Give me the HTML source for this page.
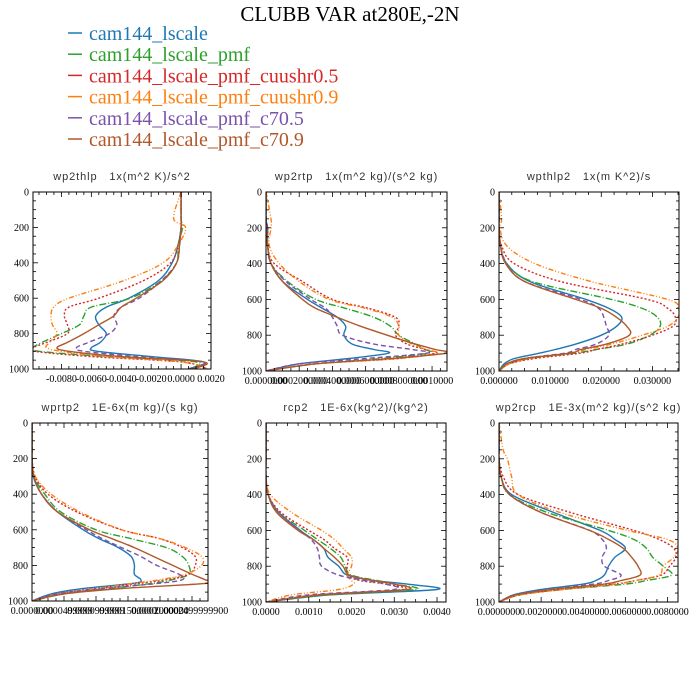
<!DOCTYPE html>
<html><head><meta charset="utf-8"><style>
body{margin:0;background:#fff;}
svg{display:block;}
.pt{white-space:pre;}
</style></head><body>
<svg id="fig" width="700" height="700" xmlns="http://www.w3.org/2000/svg">
<rect width="700" height="700" fill="#fff"/>
<text x="350" y="21" text-anchor="middle" font-family="Liberation Serif, serif" font-size="21" fill="#000">CLUBB VAR at280E,-2N</text>
<defs id="defs"></defs>
<g id="legend"></g>
<g id="panels"></g>
</svg>
<script>
const seriesNames=["cam144_lscale","cam144_lscale_pmf","cam144_lscale_pmf_cuushr0.5","cam144_lscale_pmf_cuushr0.9","cam144_lscale_pmf_c70.5","cam144_lscale_pmf_c70.9"];
const levels=[0,150,200,300,400,500,600,650,700,750,800,850,880,900,930,960,1000];
// panel 1 wp2thlp (1e-3)
const p1blue=[0,0,0,-0.2,-0.6,-1.5,-3.5,-5.0,-5.7,-5.5,-5.0,-5.4,-6.0,-5.6,-2,1.5,0.5];
const p1green=[0,0,0.1,-0.2,-0.3,-1.3,-3.4,-6.0,-6.5,-6.8,-8.0,-9.3,-9.9,-9.5,-5,1,0.5];
const p1red=[0,0,0,-0.2,-0.7,-2.5,-5.5,-7.5,-7.8,-7.6,-7.6,-9.0,-9.9,-9.8,-6,0,1.8];
const p1orange=[0,-0.5,0.3,-0.2,-1.2,-3.8,-7.5,-8.5,-8.7,-8.6,-8.3,-8.8,-9.0,-8.0,-5,0,1.8];
const p1purple=[0,0,0,-0.1,-0.3,-1.3,-2.8,-4.0,-4.5,-4.3,-4.8,-6.2,-7.0,-6.5,-3,1.5,0.5];
const p1brown=[0,0,0,-0.1,-0.3,-1.2,-3.0,-4.0,-4.5,-5.5,-6.5,-7.6,-8.3,-7.5,-4,1.5,0.8];
// panel 2 wp2rtp (1e-4)
const p2blue=[0,0,0.1,0.1,0.3,1.0,2.5,3.4,4.3,4.8,4.7,5.2,6.5,7.4,5,2,0];
const p2green=[0,0,0,0.1,0.3,1.3,3.0,4.8,6.5,7.5,8.0,9.0,9.6,9.8,7,3,0];
const p2red=[0,0,0.1,0.1,0.5,2.2,4.0,6.2,7.8,8.0,7.8,8.5,9.6,10.2,8,3,0];
const p2orange=[0,0.3,0.3,0.2,0.8,2.0,3.8,6.0,7.6,8.0,8.0,8.8,9.6,10.3,8,3,0];
const p2purple=[0,0,0,0.1,0.3,1.2,2.7,3.6,4.0,4.3,4.6,6.5,8.8,9.7,6,2,0];
const p2brown=[0,0,0,0.1,0.3,1.0,2.2,3.0,4.3,5.7,7.3,9.0,10.2,10.9,7.5,3,0];
// panel 3 wpthlp2 (1e-3)
const p3blue=[0,0,0,0.3,1.5,6,17,21.5,24,23,20,15,11,8,3,1,0];
const p3green=[0,0,0,0.3,1.5,6.5,22,28,31,31.5,29.5,25,19,15,6,2,0];
const p3red=[0,0,0,0.5,3,12,29,33,34.5,34,30,24,19,16,7,2,0];
const p3orange=[0,0.5,0.2,1.5,7,18,33,35,35,33,28,22,17,14,6,2,0];
const p3purple=[0,0,0,0.3,1.5,5,16,19.5,20.5,21,21.5,19,15,13,5,1.5,0];
const p3brown=[0,0,0,0.3,1.3,5,15,20,23,25,25.5,21,16,14,5,1.5,0];
// panel 4 wprtp2 (1e-5)
const p4blue=[0,0,0,0.2,1.5,4,8,10.5,13.5,15.5,16,16,17,16,8,3,0];
const p4green=[0,0,0,0.3,2,4.5,10,15.5,21,23.5,24.5,24.5,22,19,12,5,0];
const p4red=[0,0,0,0.5,2.5,7,14,20,23.5,25.5,25.5,24.5,21,17,10,4,0];
const p4orange=[0,0,0,0.5,3,7.5,14,20,24,26.5,26.5,24,20,16,10,4,0];
const p4purple=[0,0,0,0.3,1.5,4,8.5,11,14,17,19.5,23,23.5,20,11,4,0];
const p4brown=[0,0,0,0.3,1.5,4,9,12.5,16,19,22,25,27,27.5,14,5,0];
// panel 5 rcp2 (1e-3)
const p5blue=[0,0,0,0,0.05,0.3,0.8,1.1,1.35,1.45,1.7,1.9,2.5,3.3,4.0,1.5,0];
const p5green=[0,0,0,0,0.05,0.3,0.9,1.2,1.5,1.75,1.85,2.0,2.6,3.0,3.5,1.5,0];
const p5red=[0,0,0,0,0.05,0.35,1.0,1.35,1.6,1.9,1.9,1.9,2.2,2.8,3.2,1.2,0];
const p5orange=[0,0,0,0,0.1,0.6,1.3,1.6,1.8,2.0,2.0,1.9,2.0,2.05,1.7,0.6,0];
const p5purple=[0,0,0,0,0.05,0.3,0.8,1.05,1.2,1.25,1.3,1.7,2.3,2.8,3.0,1.0,0];
const p5brown=[0,0,0,0,0.05,0.25,0.75,1.1,1.35,1.6,1.8,1.95,2.5,3.0,3.3,1.3,0];
// panel 6 wp2rcp (1e-3)
const p6blue=[0,0,0,0.1,0.6,2.6,4.8,5.5,6.0,5.5,5.2,5.0,4.6,4,2,0.7,0];
const p6green=[0,0,0,0.1,0.5,2.3,5.2,6.4,7.0,7.3,7.8,8.2,7,6,3,1,0];
const p6red=[0,0,0,0.2,0.9,3.4,6.4,7.6,8.3,8.4,8.1,7.7,6.5,5.5,3,1,0];
const p6orange=[0,0.2,0.4,0.6,0.9,2.9,6.1,8.0,8.5,8.3,7.8,7.6,6.5,5.5,3,1,0];
const p6purple=[0,0,0,0.1,0.5,2.0,4.3,4.9,5.1,4.9,5.0,5.8,5.2,4.5,2.3,0.8,0];
const p6brown=[0,0,0,0.1,0.5,2.0,4.3,5.2,5.9,6.3,6.6,6.7,5.8,5,2.5,0.8,0];
// axis ticks
const p1ticks=[-8,-6,-4,-2,0,2];
const p1labels=["-0.0080","-0.0060","-0.0040","-0.0020","0.0000","0.0020"];
const p2ticks=[0,2,4,6,8,10];
const p2labels=["0.0000000","0.0002000000","0.0004000000","0.0006000000","0.0008000000","0.0010000"];
const p3ticks=[0,10,20,30];
const p3labels=["0.000000","0.010000","0.020000","0.030000"];
const p4ticks=[0,5,10,15,20,25];
const p4labels=["0.0000000","0.0000499999","0.0000999999","0.0001500000","0.0002000000","0.0002499999900"];
const p5ticks=[0,1,2,3,4];
const p5labels=["0.0000","0.0010","0.0020","0.0030","0.0040"];
const p6ticks=[0,2,4,6,8];
const p6labels=["0.0000000","0.0020000","0.0040000","0.0060000","0.0080000"];
const yTicks=[0,200,400,600,800,1000];

const colors=["#1f77b4","#2ca02c","#d62728","#ff7f0e","#7b52ab","#b0582a"];
const dashes=["","7,2,1,2","2,2","5,2,1,2,1,2","5,3",""];
const NS="http://www.w3.org/2000/svg";
function mk(tag,attrs,parent){const e=document.createElementNS(NS,tag);for(const k in attrs)e.setAttribute(k,attrs[k]);parent.appendChild(e);return e;}
function smooth(pts){
  let d='M'+pts[0][0].toFixed(1)+','+pts[0][1].toFixed(1);
  for(let i=0;i<pts.length-1;i++){
    const p0=pts[Math.max(i-1,0)],p1=pts[i],p2=pts[i+1],p3=pts[Math.min(i+2,pts.length-1)];
    const c1=[p1[0]+(p2[0]-p0[0])/6,p1[1]+(p2[1]-p0[1])/6];
    const c2=[p2[0]-(p3[0]-p1[0])/6,p2[1]-(p3[1]-p1[1])/6];
    d+='C'+c1[0].toFixed(1)+','+c1[1].toFixed(1)+' '+c2[0].toFixed(1)+','+c2[1].toFixed(1)+' '+p2[0].toFixed(1)+','+p2[1].toFixed(1);
  }
  return d;
}

const leg=document.getElementById('legend');
seriesNames.forEach((n,i)=>{
  const y=33+i*21.2;
  const l=mk('line',{x1:68,x2:82,y1:y,y2:y,stroke:colors[i],'stroke-width':1.5},leg);
  
  
  const t=mk('text',{x:89,y:y+7,'font-family':'Liberation Serif, serif','font-size':20,fill:colors[i]},leg);
  t.textContent=n;
  
  
});

const panels=[
 {name:'wp2thlp',title:'wp2thlp   1x(m^2 K)/s^2',box:[33,192,211,369],xr:[-9.9,2.0],ticks:p1ticks,labels:p1labels,data:[p1blue,p1green,p1red,p1orange,p1purple,p1brown]},
 {name:'wp2rtp',title:'wp2rtp   1x(m^2 kg)/(s^2 kg)',box:[266,192,447,371],xr:[0,10.9],ticks:p2ticks,labels:p2labels,data:[p2blue,p2green,p2red,p2orange,p2purple,p2brown]},
 {name:'wpthlp2',title:'wpthlp2   1x(m K^2)/s',box:[499,192,679,371],xr:[0,35.2],ticks:p3ticks,labels:p3labels,data:[p3blue,p3green,p3red,p3orange,p3purple,p3brown]},
 {name:'wprtp2',title:'wprtp2   1E-6x(m kg)/(s kg)',box:[32,423,208,601],xr:[0,27.5],ticks:p4ticks,labels:p4labels,data:[p4blue,p4green,p4red,p4orange,p4purple,p4brown]},
 {name:'rcp2',title:'rcp2   1E-6x(kg^2)/(kg^2)',box:[266,423,446,602],xr:[0,4.21],ticks:p5ticks,labels:p5labels,data:[p5blue,p5green,p5red,p5orange,p5purple,p5brown]},
 {name:'wp2rcp',title:'wp2rcp   1E-3x(m^2 kg)/(s^2 kg)',box:[499,423,678,602],xr:[0,8.5],ticks:p6ticks,labels:p6labels,data:[p6blue,p6green,p6red,p6orange,p6purple,p6brown]}
];
const defs=document.getElementById('defs');
const root=document.getElementById('panels');
panels.forEach((p,pi)=>{
  const g=mk('g',{},root);
  
  
  const [x0,y0,x1,y1]=p.box;
  const cp=mk('clipPath',{id:'clip'+pi},defs);
  mk('rect',{x:x0,y:y0,width:x1-x0,height:y1-y0},cp);
  const sx=v=>x0+(v-p.xr[0])/(p.xr[1]-p.xr[0])*(x1-x0);
  const sy=v=>y0+v/1000*(y1-y0);
  const t=mk('text',{x:(x0+x1)/2,y:y0-12,'text-anchor':'middle','font-family':'Liberation Sans, sans-serif','font-size':11,'letter-spacing':0.9,fill:'#333',class:'pt'},g);
  t.textContent=p.title;
  
  
  const cg=mk('g',{'clip-path':'url(#clip'+pi+')'},g);
  p.data.forEach((arr,si)=>{
    const pts=arr.map((v,k)=>[sx(v),sy(levels[k])]);
    const path=mk('path',{d:smooth(pts),fill:'none',stroke:colors[si],'stroke-width':1.4,'stroke-dasharray':dashes[si]||'none','stroke-linejoin':'round'},cg);
    
    
  });
  const b=mk('rect',{x:x0,y:y0,width:x1-x0,height:y1-y0,fill:'none',stroke:'#000','stroke-width':1},g);
  
  
  const tg=mk('g',{stroke:'#000','stroke-width':0.8},g);
  for(let v=0;v<=1000;v+=50){
    const y=sy(v);const L=(v%200===0)?5:3;
    mk('line',{x1:x0,x2:x0+L,y1:y,y2:y},tg);mk('line',{x1:x1,x2:x1-L,y1:y,y2:y},tg);
  }
  yTicks.forEach(v=>{
    const tx=mk('text',{x:x0-4,y:sy(v)+3.5,'text-anchor':'end','font-family':'Liberation Serif, serif','font-size':10,fill:'#000'},g);
    tx.textContent=String(v);
    
    
  });
  const step=p.ticks[1]-p.ticks[0];
  for(let v=p.ticks[0]-step;v<=p.xr[1]+1e-9;v+=step/4){
    if(v<p.xr[0]-1e-9)continue;
    const x=sx(v);const major=Math.abs(((v-p.ticks[0])/step)-Math.round((v-p.ticks[0])/step))<1e-6;const L=major?5:3;
    mk('line',{x1:x,x2:x,y1:y1,y2:y1-L},tg);mk('line',{x1:x,x2:x,y1:y0,y2:y0+L},tg);
  }
  p.ticks.forEach((v,k)=>{
    const tx=mk('text',{x:sx(v),y:y1+13,'text-anchor':'middle','font-family':'Liberation Serif, serif','font-size':10,fill:'#000'},g);
    tx.textContent=p.labels[k];
    
    
  });
});
</script>
</body></html>
